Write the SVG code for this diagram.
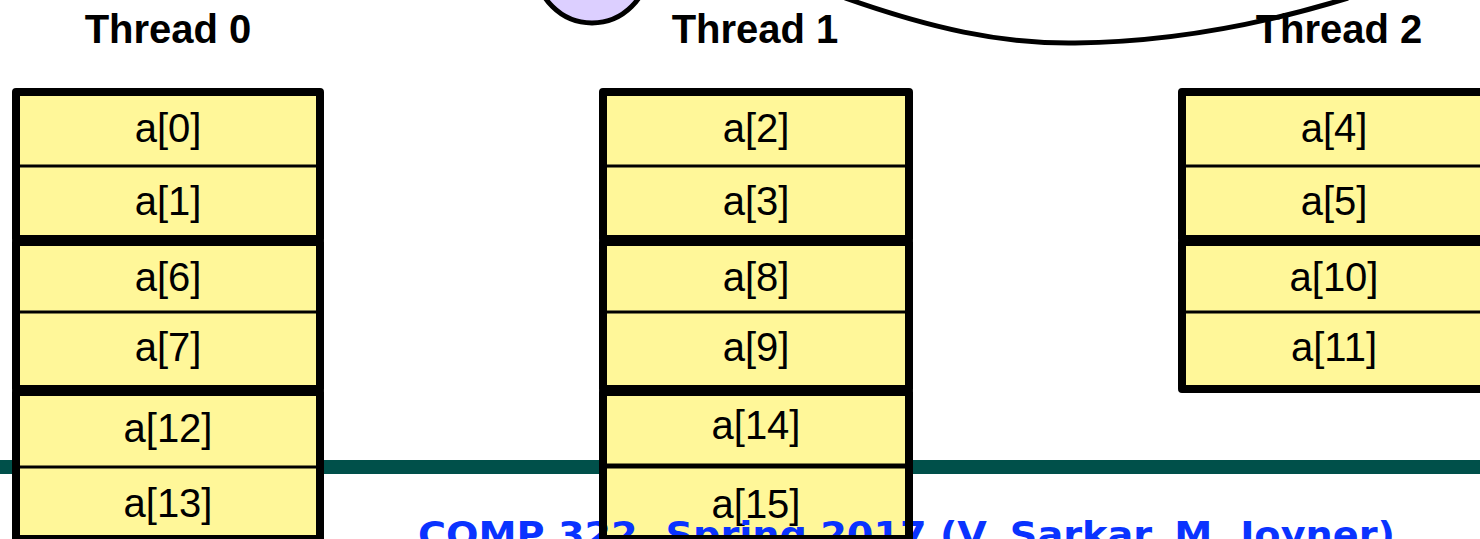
<svg xmlns="http://www.w3.org/2000/svg" width="1480" height="539" viewBox="0 0 1480 539">
  <style>
    .title { font-family: "Liberation Sans", Arial, sans-serif; font-weight: bold; font-size: 40px; fill: #000; text-anchor: middle; }
    .cell { font-family: "Liberation Sans", Arial, sans-serif; font-size: 40px; fill: #000; text-anchor: middle; }
    .fill { fill: #FFF799; stroke: none; }
    .frame { fill: none; stroke: #000; stroke-width: 8; stroke-linejoin: round; }
    .sep { stroke: #000; stroke-width: 3; }
    .footer { font-family: "Comic Sans MS", "DejaVu Sans", sans-serif; font-weight: bold; font-size: 36px; fill: #0A33FF; }
  </style>

  <rect x="0" y="0" width="1480" height="539" fill="#FFFFFF"/>

  <!-- slide footer rule -->
  <rect x="0" y="460" width="1480" height="14" fill="#00504A"/>

  <!-- partially visible lavender node at the top -->
  <g id="top-node">
    <circle cx="592" cy="-33" r="56" fill="#DCCFFF" stroke="#000" stroke-width="5"/>
  </g>

  <g id="connectors">
    <path d="M 845 -2 C 930 28, 1000 44, 1075 43 C 1180 42, 1270 22, 1348 -2" fill="none" stroke="#000" stroke-width="5"/>
  </g>

  <!-- Thread 0 -->
  <g id="thread0">
    <text class="title" x="168" y="43">Thread 0</text>
    <rect class="fill" x="16" y="92" width="304" height="147"/>
    <rect class="fill" x="16" y="242" width="304" height="147"/>
    <rect class="fill" x="16" y="392" width="304" height="150"/>
    <line class="sep" x1="16" y1="166" x2="320" y2="166"/>
    <line class="sep" x1="16" y1="312" x2="320" y2="312"/>
    <line class="sep" x1="16" y1="467" x2="320" y2="467"/>
    <text class="cell" x="168" y="142">a[0]</text>
    <text class="cell" x="168" y="215">a[1]</text>
    <text class="cell" x="168" y="291">a[6]</text>
    <text class="cell" x="168" y="361">a[7]</text>
    <text class="cell" x="168" y="442">a[12]</text>
    <text class="cell" x="168" y="517">a[13]</text>
  </g>

  <!-- Thread 1 -->
  <g id="thread1">
    <text class="title" x="755" y="43">Thread 1</text>
    <rect class="fill" x="603" y="92" width="306" height="147"/>
    <rect class="fill" x="603" y="242" width="306" height="147"/>
    <rect class="fill" x="603" y="392" width="306" height="150"/>
    <line class="sep" x1="603" y1="166" x2="909" y2="166"/>
    <line class="sep" x1="603" y1="312" x2="909" y2="312"/>
    <line x1="603" y1="466" x2="909" y2="466" stroke="#000" stroke-width="5"/>
    <text class="cell" x="756" y="142">a[2]</text>
    <text class="cell" x="756" y="215">a[3]</text>
    <text class="cell" x="756" y="291">a[8]</text>
    <text class="cell" x="756" y="361">a[9]</text>
    <text class="cell" x="756" y="439">a[14]</text>
    <text class="cell" x="756" y="518">a[15]</text>
  </g>

  <!-- Thread 2 -->
  <g id="thread2">
    <text class="title" x="1339" y="43">Thread 2</text>
    <rect class="fill" x="1182" y="92" width="304" height="147"/>
    <rect class="fill" x="1182" y="242" width="304" height="147"/>
    <line class="sep" x1="1182" y1="166" x2="1486" y2="166"/>
    <line class="sep" x1="1182" y1="312" x2="1486" y2="312"/>
    <text class="cell" x="1334" y="142">a[4]</text>
    <text class="cell" x="1334" y="215">a[5]</text>
    <text class="cell" x="1334" y="291">a[10]</text>
    <text class="cell" x="1334" y="361">a[11]</text>
  </g>

  <!-- course footer, sitting above the cell fills but under the frames -->
  <text class="footer" x="418" y="547" textLength="977" lengthAdjust="spacingAndGlyphs">COMP 322, Spring 2017 (V. Sarkar, M. Joyner)</text>

  <!-- heavy outlines of each two-cell block -->
  <g id="frames">
    <rect class="frame" x="16" y="92" width="304" height="147"/>
    <rect class="frame" x="16" y="242" width="304" height="147"/>
    <rect class="frame" x="16" y="392" width="304" height="147"/>
    <rect class="frame" x="603" y="92" width="306" height="147"/>
    <rect class="frame" x="603" y="242" width="306" height="147"/>
    <rect class="frame" x="603" y="392" width="306" height="147"/>
    <rect class="frame" x="1182" y="92" width="304" height="147"/>
    <rect class="frame" x="1182" y="242" width="304" height="147"/>
  </g>
</svg>
